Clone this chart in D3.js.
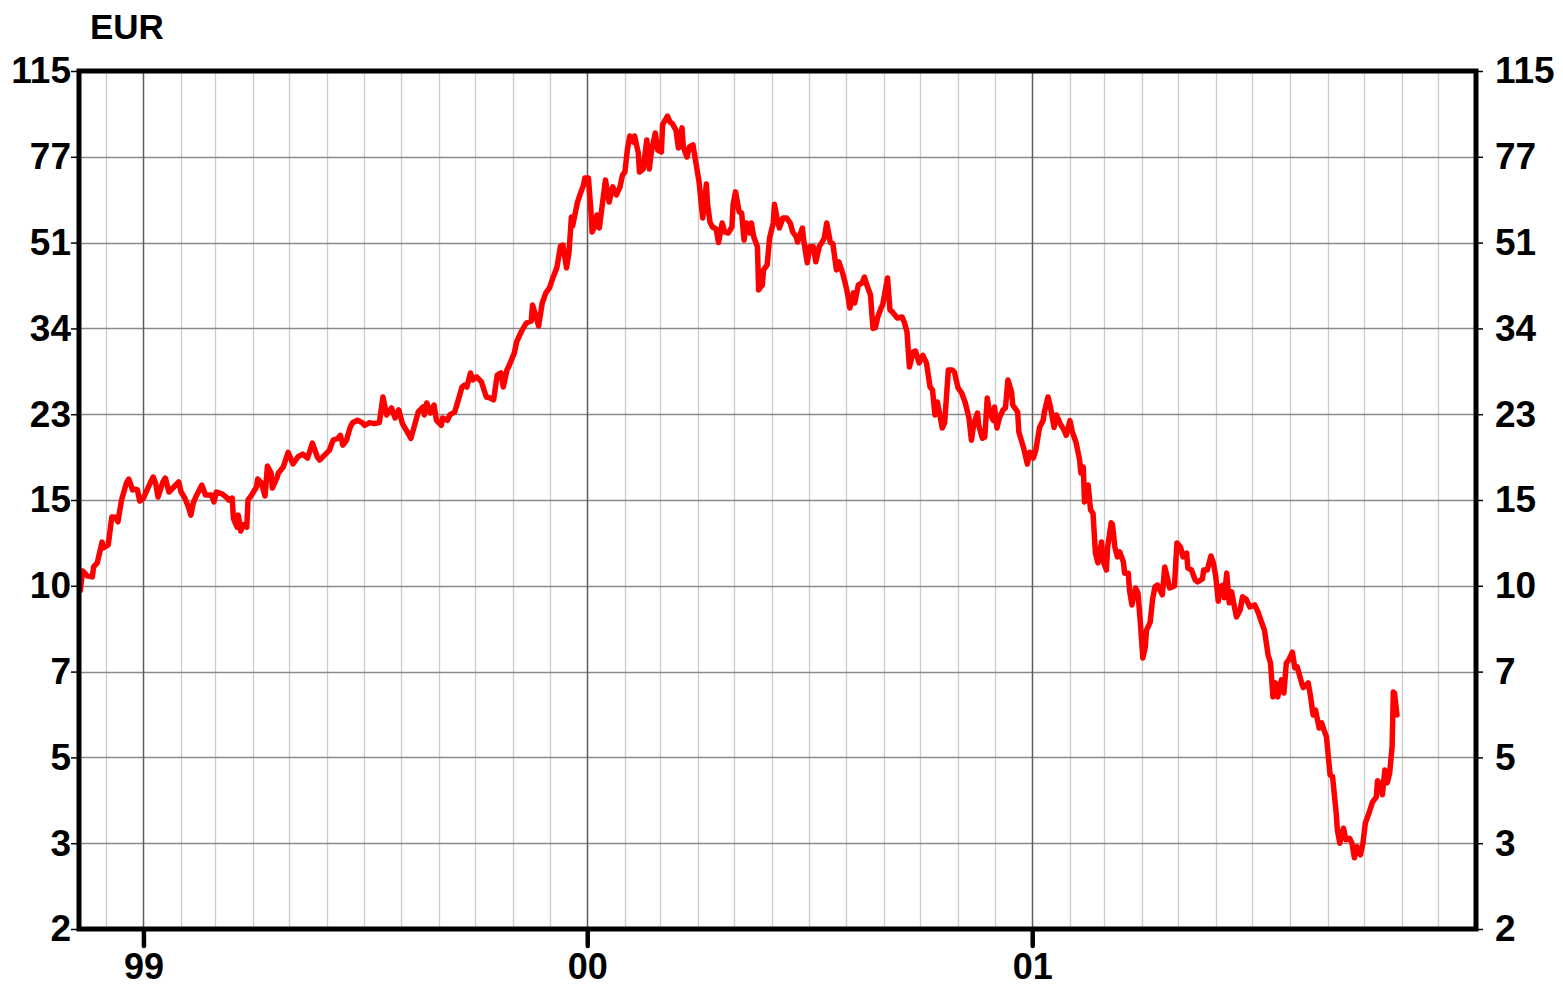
<!DOCTYPE html>
<html><head><meta charset="utf-8">
<script src="https://cdn.jsdelivr.net/npm/d3@7"></script>
<style>
body{margin:0;background:#fff;}
svg{display:block;}
text{font-family:"Liberation Sans",Arial,Helvetica,sans-serif;font-weight:bold;fill:#000;}
</style>
</head><body>
<svg id="chart" width="1563" height="987"></svg>
<script>
const unitLabel = "EUR";
const yTickValues = [2, 3, 4.5, 6.75, 10.125, 15.1875, 22.78, 34.17, 51.26, 76.89, 115.33];
const yTickLabels = ["2","3","5","7","10","15","23","34","51","77","115"];
const xTickDates = ["1999-01-01","2000-01-01","2001-01-01"];
const xTickLabels = ["99","00","01"];
const xDomain = ["1998-11-09","2002-01-01"];

const prices1998 = [
["1998-11-10",9.9],["1998-11-12",10.86],["1998-11-16",10.60],["1998-11-20",10.56],["1998-11-21",11.07],
["1998-11-24",11.28],["1998-11-28",12.45],["1998-11-29",12.11],["1998-12-03",12.28],["1998-12-06",14.01],
["1998-12-09",14.0],["1998-12-11",13.70],["1998-12-14",15.19],["1998-12-18",16.46],["1998-12-20",16.77],
["1998-12-23",15.93],["1998-12-25",16.0],["1998-12-27",15.93],["1998-12-29",15.11]
];
const prices1999 = [
["1999-01-01",15.33],["1999-01-04",15.93],["1999-01-07",16.54],["1999-01-09",16.93],["1999-01-11",16.46],
["1999-01-13",15.40],["1999-01-17",16.54],["1999-01-19",16.85],["1999-01-22",15.77],["1999-01-26",16.15],
["1999-01-30",16.54],["1999-02-01",15.77],["1999-02-04",15.33],["1999-02-07",14.69],["1999-02-09",14.14],
["1999-02-11",14.98],["1999-02-13",15.40],["1999-02-16",15.93],["1999-02-18",16.30],["1999-02-21",15.55],
["1999-02-26",15.55],["1999-02-28",15.05],["1999-03-02",15.77],["1999-03-07",15.62],["1999-03-11",15.33],
["1999-03-12",15.19],["1999-03-15",15.33],["1999-03-16",13.92],["1999-03-19",13.36],["1999-03-20",14.14],
["1999-03-22",13.12],["1999-03-24",13.52],["1999-03-27",13.36],["1999-03-28",15.19],["1999-03-31",15.55],
["1999-04-04",16.15],["1999-04-05",16.77],["1999-04-08",16.46],["1999-04-11",15.48],["1999-04-13",17.83],
["1999-04-16",17.26],["1999-04-17",16.07],["1999-04-21",16.93],["1999-04-22",17.26],["1999-04-26",17.75],
["1999-04-30",19.03],["1999-05-04",18.00],["1999-05-08",18.61],["1999-05-12",18.86],["1999-05-16",18.52],
["1999-05-20",19.87],["1999-05-24",18.61],["1999-05-26",18.35],["1999-05-30",18.78],["1999-06-03",19.23],
["1999-06-06",20.15],["1999-06-10",20.33],["1999-06-12",20.62],["1999-06-14",19.68],["1999-06-17",20.15],
["1999-06-20",21.40],["1999-06-22",21.89],["1999-06-26",22.13],["1999-06-30",21.89],["1999-07-02",21.61],
["1999-07-06",21.89],["1999-07-10",21.79],["1999-07-14",21.89],["1999-07-17",24.71],["1999-07-20",22.70],
["1999-07-24",23.46],["1999-07-27",22.38],["1999-07-30",23.24],["1999-08-02",21.79],["1999-08-06",20.95],
["1999-08-09",20.33],["1999-08-12",21.61],["1999-08-15",23.02],["1999-08-19",23.57],["1999-08-20",22.70],
["1999-08-22",24.02],["1999-08-25",22.91],["1999-08-28",23.79],["1999-08-30",22.13],["1999-09-03",21.61],
["1999-09-04",22.38],["1999-09-08",22.13],["1999-09-10",22.70],["1999-09-14",23.02],["1999-09-17",24.38],
["1999-09-20",25.90],["1999-09-22",26.14],["1999-09-24",25.90],["1999-09-27",27.68],["1999-09-29",26.79],
["1999-10-02",27.17],["1999-10-06",26.53],["1999-10-10",24.71],["1999-10-13",24.60],["1999-10-16",24.38],
["1999-10-19",27.41],["1999-10-22",27.68],["1999-10-24",25.90],["1999-10-27",28.08],["1999-10-29",28.75],
["1999-11-02",30.40],["1999-11-04",32.11],["1999-11-08",33.72],["1999-11-12",35.06],["1999-11-16",35.39],
["1999-11-17",38.17],["1999-11-20",36.07],["1999-11-22",34.56],["1999-11-25",38.53],["1999-11-28",40.41],
["1999-12-01",41.37],["1999-12-04",43.57],["1999-12-07",45.49],["1999-12-10",50.39],["1999-12-12",50.67],
["1999-12-15",45.49],["1999-12-17",48.90],["1999-12-19",57.84],["1999-12-20",55.44],["1999-12-24",62.09],
["1999-12-26",64.22],["1999-12-29",67.32],["1999-12-30",69.55]
];
const prices2000 = [
["2000-01-02",69.55],["2000-01-04",59.80],["2000-01-05",53.90],["2000-01-07",55.18],["2000-01-09",58.41],
["2000-01-11",54.92],["2000-01-14",62.98],["2000-01-16",68.91],["2000-01-19",62.09],["2000-01-22",66.69],
["2000-01-25",64.22],["2000-01-28",66.69],["2000-01-30",70.53],["2000-02-01",71.53],["2000-02-03",79.39],
["2000-02-05",84.82],["2000-02-08",82.44],["2000-02-09",84.82],["2000-02-12",78.27],["2000-02-13",71.53],
["2000-02-16",72.54],["2000-02-19",83.24],["2000-02-21",72.54],["2000-02-23",79.39],["2000-02-26",86.03],
["2000-02-28",79.39],["2000-03-02",78.66],["2000-03-03",89.56],["2000-03-07",93.18],["2000-03-09",90.66],
["2000-03-11",89.96],["2000-03-14",87.24],["2000-03-16",80.16],["2000-03-19",88.16],["2000-03-20",80.53],
["2000-03-23",76.82],["2000-03-25",80.53],["2000-03-28",81.32],["2000-03-31",73.20],["2000-04-02",68.26],
["2000-04-04",60.79],["2000-04-05",57.58],["2000-04-08",67.63],["2000-04-09",61.42],["2000-04-11",56.47],
["2000-04-13",55.18],["2000-04-16",54.67],["2000-04-18",51.26],["2000-04-21",56.22],["2000-04-23",53.90],
["2000-04-26",53.64],["2000-04-29",55.18],["2000-04-30",61.42],["2000-05-02",65.15],["2000-05-05",59.22],
["2000-05-07",58.92],["2000-05-09",51.88],["2000-05-11",56.22],["2000-05-14",53.64],["2000-05-15",56.22],
["2000-05-17",52.63],["2000-05-20",50.25],["2000-05-21",40.99],["2000-05-24",41.95],["2000-05-25",45.05],
["2000-05-28",46.14],["2000-05-30",52.39],["2000-06-02",56.22],["2000-06-03",61.42],["2000-06-05",57.84],
["2000-06-07",54.92],["2000-06-10",57.58],["2000-06-13",57.58],["2000-06-16",56.22],["2000-06-18",53.90],
["2000-06-21",52.63],["2000-06-22",51.40],["2000-06-26",54.92],["2000-06-27",51.88],["2000-06-30",46.59],
["2000-07-02",50.25],["2000-07-05",50.25],["2000-07-07",46.82],["2000-07-10",50.39],["2000-07-12",51.26],
["2000-07-14",52.39],["2000-07-16",56.22],["2000-07-19",51.26],["2000-07-21",51.0],["2000-07-24",45.05],
["2000-07-26",46.82],["2000-07-29",44.42],["2000-07-31",42.54],["2000-08-02",40.41],["2000-08-04",37.63],
["2000-08-07",40.41],["2000-08-08",38.53],["2000-08-11",41.95],["2000-08-14",42.34],["2000-08-16",43.57],
["2000-08-18",41.95],["2000-08-21",40.02],["2000-08-23",34.17],["2000-08-25",34.3],["2000-08-27",36.07],
["2000-08-30",37.81],["2000-08-31",38.17],["2000-09-04",43.36],["2000-09-06",37.27],["2000-09-08",36.93],
["2000-09-12",35.89],["2000-09-16",36.07],["2000-09-18",35.06],["2000-09-20",33.59],["2000-09-22",28.47],
["2000-09-25",30.55],["2000-09-27",30.7],["2000-09-30",29.04],["2000-10-03",30.10],["2000-10-06",29.04],
["2000-10-09",25.90],["2000-10-11",25.55],["2000-10-13",22.70],["2000-10-15",24.13],["2000-10-19",21.34],
["2000-10-21",21.89],["2000-10-24",28.08],["2000-10-27",28.08],["2000-10-29",27.81],["2000-11-01",25.79],
["2000-11-04",25.18],["2000-11-07",24.02],["2000-11-08",23.46],["2000-11-10",22.38],["2000-11-12",20.15],
["2000-11-14",21.79],["2000-11-17",22.91],["2000-11-18",21.61],["2000-11-21",20.33],["2000-11-23",20.45],
["2000-11-25",24.60],["2000-11-27",22.91],["2000-11-30",22.13],["2000-12-01",23.57],["2000-12-03",21.34],
["2000-12-05",22.38],["2000-12-08",23.24],["2000-12-10",23.46],["2000-12-12",26.79],["2000-12-15",25.30],
["2000-12-16",23.79],["2000-12-20",23.02],["2000-12-21",20.95],["2000-12-25",19.39],["2000-12-28",18.00],
["2000-12-30",19.03]
];
const prices2001 = [
["2001-01-02",18.52],["2001-01-04",19.23],["2001-01-07",21.40],["2001-01-10",22.13],["2001-01-11",23.02],
["2001-01-14",24.71],["2001-01-16",23.57],["2001-01-19",21.40],["2001-01-21",22.70],["2001-01-24",21.79],
["2001-01-27",21.17],["2001-01-29",20.62],["2001-02-01",22.10],["2001-02-03",20.95],["2001-02-06",19.95],
["2001-02-09",18.35],["2001-02-10",17.26],["2001-02-12",17.75],["2001-02-13",15.05],["2001-02-16",16.30],
["2001-02-18",14.49],["2001-02-20",14.26],["2001-02-22",11.82],["2001-02-24",11.28],["2001-02-27",12.45],
["2001-02-28",11.44],["2001-03-03",10.91],["2001-03-04",12.16],["2001-03-07",13.64],["2001-03-08",13.52],
["2001-03-10",12.16],["2001-03-12",11.61],["2001-03-14",11.88],["2001-03-17",11.33],["2001-03-18",10.75],
["2001-03-21",10.75],["2001-03-22",9.92],["2001-03-24",9.25],["2001-03-27",10.02],["2001-03-29",9.79],
["2001-03-31",8.47],["2001-04-02",7.20],["2001-04-04",7.58],["2001-04-05",8.21],["2001-04-08",8.52],
["2001-04-10",9.50],["2001-04-12",10.08],["2001-04-14",10.16],["2001-04-18",9.70],["2001-04-20",11.07],
["2001-04-22",10.56],["2001-04-24",10.02],["2001-04-28",10.12],["2001-04-30",12.40],["2001-05-03",12.16],
["2001-05-05",11.61],["2001-05-08",11.82],["2001-05-09",11.01],["2001-05-12",10.91],["2001-05-15",10.41],
["2001-05-17",10.31],["2001-05-21",10.46],["2001-05-22",10.91],["2001-05-25",10.91],["2001-05-28",11.66],
["2001-05-30",11.28],["2001-06-01",10.56],["2001-06-03",9.41],["2001-06-04",10.07],["2001-06-07",10.16],
["2001-06-08",9.57],["2001-06-10",10.75],["2001-06-12",9.34],["2001-06-14",9.84],["2001-06-16",9.25],
["2001-06-18",8.74],["2001-06-21",9.03],["2001-06-23",9.61],["2001-06-26",9.50],["2001-06-29",9.16],
["2001-07-03",9.25],["2001-07-06",8.91],["2001-07-09",8.47],["2001-07-11",8.21],["2001-07-14",7.30],
["2001-07-16",7.03],["2001-07-18",5.99],["2001-07-20",6.40],["2001-07-22",5.99],["2001-07-25",6.49],
["2001-07-27",6.10],["2001-07-29",7.03],["2001-07-31",7.13],["2001-08-03",7.40],["2001-08-05",6.87],
["2001-08-07",6.90],["2001-08-11",6.34],["2001-08-12",6.26],["2001-08-16",6.40],["2001-08-18",5.99],
["2001-08-20",5.50],["2001-08-22",5.63],["2001-08-25",5.17],["2001-08-27",5.30],["2001-08-29",5.12],
["2001-08-31",4.96],["2001-09-03",4.14],["2001-09-05",4.11],["2001-09-08",3.46],["2001-09-09",3.19],
["2001-09-11",3.00],["2001-09-14",3.22],["2001-09-16",3.05],["2001-09-19",3.07],["2001-09-21",3.00],
["2001-09-23",2.80],["2001-09-25",2.95],["2001-09-28",2.84],["2001-09-30",3.00],["2001-10-02",3.30],
["2001-10-05",3.46],["2001-10-08",3.65],["2001-10-11",3.73],["2001-10-12",4.03],["2001-10-15",3.94],
["2001-10-16",3.77],["2001-10-18",4.24],["2001-10-20",3.99],["2001-10-22",4.18],["2001-10-24",4.73],
["2001-10-25",6.13],["2001-10-26",6.10],["2001-10-28",5.50]
];

const parse = d3.timeParse("%Y-%m-%d");
const data = [...prices1998, ...prices1999, ...prices2000, ...prices2001]
  .map(([d, v]) => ({date: parse(d), value: v}));

const L = 79, R = 1476, T = 71, B = 929;
const svg = d3.select("#chart");

const x = d3.scaleTime().domain(xDomain.map(parse)).range([L, R]);
const y = d3.scaleLog().domain([yTickValues[0], yTickValues[yTickValues.length - 1]]).range([B, T]);

const yearDates = xTickDates.map(parse);
const isYear = d => yearDates.some(y0 => +y0 === +d);

// minor month gridlines
const months = d3.timeMonth.range(d3.timeMonth.ceil(x.domain()[0]), x.domain()[1]);
svg.append("g").selectAll("line").data(months.filter(d => !isYear(d))).join("line")
  .attr("x1", d => Math.round(x(d)) + 0.5).attr("x2", d => Math.round(x(d)) + 0.5)
  .attr("y1", T).attr("y2", B)
  .attr("stroke", "#cccccc").attr("stroke-width", 1.3);

// horizontal gridlines
svg.append("g").selectAll("line").data(yTickValues.slice(1, -1)).join("line")
  .attr("x1", L).attr("x2", R)
  .attr("y1", d => Math.round(y(d)) + 0.5).attr("y2", d => Math.round(y(d)) + 0.5)
  .attr("stroke", "#8a8a8a").attr("stroke-width", 1.3);

// year gridlines
svg.append("g").selectAll("line").data(yearDates).join("line")
  .attr("x1", d => Math.round(x(d)) + 0.5).attr("x2", d => Math.round(x(d)) + 0.5)
  .attr("y1", T).attr("y2", B)
  .attr("stroke", "#5e5e5e").attr("stroke-width", 1.5);

// clip
svg.append("clipPath").attr("id", "plot").append("rect")
  .attr("x", L).attr("y", T).attr("width", R - L).attr("height", B - T);

// price line
const line = d3.line().x(d => x(d.date)).y(d => y(d.value));
svg.append("path").datum(data)
  .attr("clip-path", "url(#plot)")
  .attr("d", line)
  .attr("fill", "none").attr("stroke", "#ff0000")
  .attr("stroke-width", 5.5).attr("stroke-linejoin", "round").attr("stroke-linecap", "round");

// frame
svg.append("rect").attr("x", L).attr("y", T).attr("width", R - L).attr("height", B - T)
  .attr("fill", "none").attr("stroke", "#000").attr("stroke-width", 5);

// axes
const fmtY = (d, i) => yTickLabels[i];
const gl = svg.append("g").attr("transform", `translate(${L},0)`)
  .call(d3.axisLeft(y).tickValues(yTickValues).tickFormat(fmtY).tickSize(8).tickPadding(0));
const gr = svg.append("g").attr("transform", `translate(${R},0)`)
  .call(d3.axisRight(y).tickValues(yTickValues).tickFormat(fmtY).tickSize(7).tickPadding(12));
[gl, gr].forEach(g => {
  g.select(".domain").remove();
  g.selectAll(".tick line").attr("stroke", "#000").attr("stroke-width", 1.5);
  g.selectAll(".tick text").attr("font-size", 37).attr("font-family", null).attr("fill", "#000");
});

const gx = svg.append("g").attr("transform", `translate(0,${B})`)
  .call(d3.axisBottom(x).tickValues(yearDates).tickFormat((d, i) => xTickLabels[i]).tickSize(17).tickPadding(8));
gx.select(".domain").remove();
gx.selectAll(".tick line").attr("stroke", "#000").attr("stroke-width", 4.5).attr("stroke-linecap", "round");
gx.selectAll(".tick text").attr("font-size", 36).attr("font-family", null).attr("fill", "#000")
  .attr("y", 50).attr("dy", 0);

// unit label
svg.append("text").attr("x", 90).attr("y", 39).attr("font-size", 35).text(unitLabel);
</script>
</body></html>
